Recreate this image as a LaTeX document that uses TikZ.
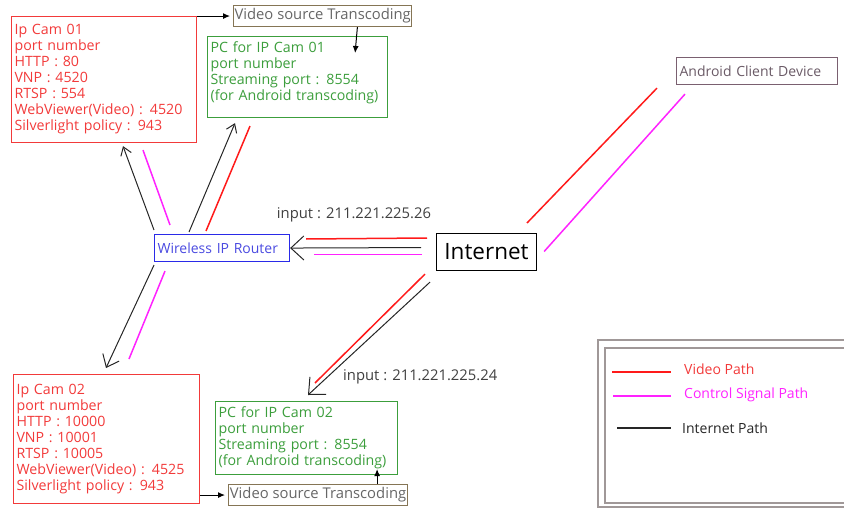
\documentclass[tikz,border=0pt]{standalone}
\usepackage{fontspec}
\setmainfont{Open Sans}
\usetikzlibrary{arrows.meta,calc}

\definecolor{camred}{HTML}{F23A3A}
\definecolor{pcgreen}{HTML}{3C9E3C}
\definecolor{routerblue}{HTML}{2A2AE8}
\definecolor{routertext}{HTML}{4A4AE0}
\definecolor{srcbrown}{HTML}{857555}
\definecolor{srcgray}{HTML}{666666}
\definecolor{droidmauve}{HTML}{7A6070}
\definecolor{droidtext}{HTML}{6A5A66}
\definecolor{videored}{HTML}{FF1A1A}
\definecolor{ctrlmagenta}{HTML}{FF22FF}
\definecolor{framegray}{HTML}{A09898}
\definecolor{labelgray}{HTML}{404040}

\begin{document}
\begin{tikzpicture}[x=1pt,y=-1pt,
	box/.style={draw,line width=1.1pt,inner xsep=3pt,inner ysep=4pt,align=left,font=\fontsize{14.2}{16}\selectfont},
	cambox/.style={box,draw=camred,text=camred},
	pcbox/.style={box,draw=pcgreen,text=pcgreen},
	srcbox/.style={draw=srcbrown,text=srcgray,line width=1.1pt,inner sep=1pt,minimum height=21pt,font=\fontsize{14.8}{16}\selectfont},
	video/.style={videored,line width=1.5pt},
	ctrl/.style={ctrlmagenta,line width=1.5pt},
	net/.style={black!85,line width=1pt},
	barb/.style={-{Straight Barb[length=8pt,width=11pt]}},
	bigbarb/.style={-{Straight Barb[length=13pt,width=24pt]}},
	feed/.style={black,line width=1pt,-{Latex[length=7pt,width=6pt]}},
	iplabel/.style={text=labelgray,font=\fontsize{14.8}{16}\selectfont,inner sep=0pt},
	legtext/.style={anchor=west,inner sep=0pt,font=\fontsize{14}{16}\selectfont}]
	
	\useasboundingbox (0,0) rectangle (844,508);
	
	% cameras and their pcs
	\node[cambox,anchor=north west,text width=179pt,minimum height=126pt] at (11,16) (cam1) {Ip Cam 01\\port number\\HTTP : 80\\VNP : 4520\\RTSP : 554\\WebViewer(Video) : 4520\\Silverlight policy : 943};
	\node[pcbox,anchor=north west,text width=174pt,minimum height=81pt] at (207,36) (pc1) {PC for IP Cam 01\\port number\\Streaming port : 8554\\(for Android transcoding)\rule[-11pt]{0pt}{11pt}};
	\node[srcbox,anchor=north west,minimum width=176pt] at (233,5) (src1) {Video source Transcoding};
	
	\node[cambox,anchor=north west,text width=180pt,minimum height=129pt] at (13,374) (cam2) {Ip Cam 02\\port number\\HTTP : 10000\\VNP : 10001\\RTSP : 10005\\WebViewer(Video) : 4525\\Silverlight policy : 943};
	\node[pcbox,anchor=north west,text width=176pt,minimum height=73pt] at (215,401) (pc2) {PC for IP Cam 02\\port number\\Streaming port : 8554\\(for Android transcoding)\rule[-3pt]{0pt}{3pt}};
	\node[srcbox,anchor=north west,minimum width=179pt] at (228,484) (src2) {Video source Transcoding};
	
	% network side
	\node[draw=routerblue,text=routertext,line width=1.1pt,anchor=north west,text width=129pt,minimum height=27pt,inner xsep=3pt,inner ysep=2pt,font=\fontsize{14}{16}\selectfont] at (154,234) (router) {Wireless IP Router};
	\node[draw,line width=1.1pt,anchor=north west,minimum width=100pt,minimum height=37pt,inner sep=2pt,font=\fontsize{22.5}{26}\selectfont] at (436,233) (internet) {Internet};
	\node[draw=droidmauve,text=droidtext,line width=1.1pt,anchor=north west,text width=155pt,minimum height=27pt,inner xsep=3pt,inner ysep=2pt,font=\fontsize{14}{16}\selectfont] at (676,57) (droid) {Android Client Device};
	
	\node[iplabel] at (354,215) (ip1) {input : 211.221.225.26};
	\node[iplabel,anchor=west] at (343,377) (ip2) {input : 211.221.225.24};
	
	% transcoding feeds
	\draw[feed] (src1.west -| cam1.east) -- ($(src1.west)+(-3,0)$);
	\draw[feed] ($(src1.south east)+(-55,0)$) -- ($(pc1.north east)+(-33,17)$);
	\draw[feed] (src2.west -| cam2.east) -- ($(src2.west)+(-3,0)$);
	\draw[feed] ($(src2.north east)+(-31,0)$) -- ($(pc2.south east)+(-21,-6)$);
	
	% router to lan
	\draw[net,barb] ($(router.north west)+(0,-4)$) -- ($(cam1.south west)+(112,3)$);
	\draw[ctrl] ($(router.north west)+(16,-9)$) -- ($(cam1.south west)+(132,7)$);
	\draw[net,barb] ($(router.north west)+(35,-2)$) -- ($(pc1.south west)+(28,5)$);
	\draw[video] ($(router.north west)+(52,-3)$) -- ($(pc1.south west)+(43,8)$);
	\draw[net,-{Straight Barb[length=11pt,width=18pt]}] ($(router.south west)+(0,3)$) -- ($(cam2.north west)+(93,-6)$);
	\draw[ctrl] ($(router.south west)+(11,9)$) -- ($(cam2.north west)+(116,-15)$);
	
	% internet side
	\draw[video] ($(internet.north west)+(-9,5)$) -- ($(router.north east)+(16,5)$);
	\draw[net,bigbarb] ($(internet.west)+(-15,-4.5)$) -- (router.east);
	\draw[ctrl] ($(internet.west)+(-14,2.5)$) -- ($(router.east)+(24,6.5)$);
	\draw[video] ($(internet.south west)+(-11,3)$) -- ($(pc2.north west)+(100,-18)$);
	\draw[net,bigbarb] ($(internet.south west)+(-6,11)$) -- ($(pc2.north west)+(93,-6)$);
	\draw[video] ($(internet.north west)+(91,-10)$) -- ($(droid.south west)+(-19,3)$);
	\draw[ctrl] ($(internet.east)+(7,-0.5)$) -- ($(droid.south west)+(9,9)$);
	
	% legend
	\begin{scope}
		\clip (0,0) rectangle (844,508);
		\draw[framegray,line width=1.6pt] (598,340) rectangle (860,507);
		\draw[framegray,line width=1.6pt] (605,348) rectangle (860,503);
	\end{scope}
	\node[legtext,text=camred] at (684,369) (lgvideo) {Video Path};
	\node[legtext,text=ctrlmagenta] at (684,395) (lgctrl) {Control Signal Path};
	\node[legtext,text=black!85] at (682,428) (lgnet) {Internet Path};
	\draw[video] (612,372) -- (671,372);
	\draw[ctrl] (613,396) -- (671,396);
	\draw[net,line width=1.5pt] (617,428) -- (671,428);
\end{tikzpicture}
\end{document}
